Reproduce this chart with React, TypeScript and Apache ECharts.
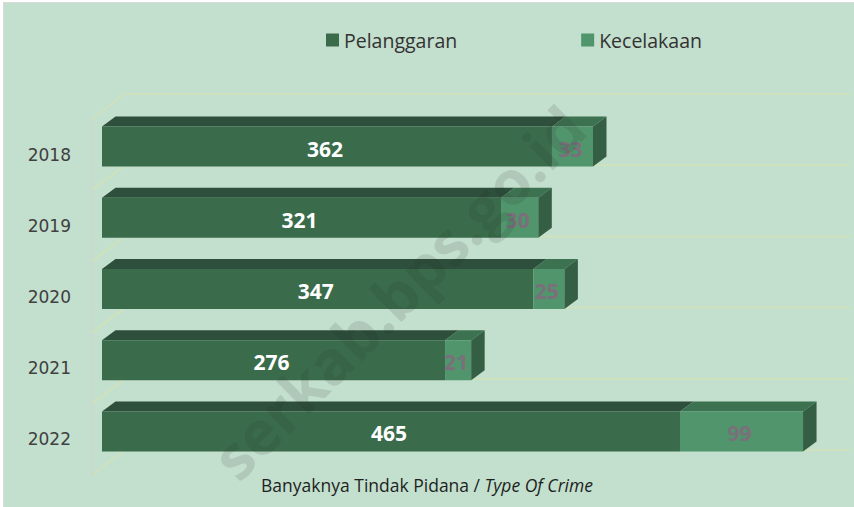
import React, { useEffect, useRef } from "react";
import * as echarts from "echarts";

const years = ["2018", "2019", "2020", "2021", "2022"];
const pelanggaran = [362, 321, 347, 276, 465];
const kecelakaan = [33, 30, 25, 21, 99];
const seriesNames = ["Pelanggaran", "Kecelakaan"];
const axisTitleId = "Banyaknya Tindak Pidana / ";
const axisTitleEn = "Type Of Crime";
const watermarkText = "serkab.bps.go.id";

const DX = 13.5;
const DY = -10;
const BAR_H = 40;
const BAR_SHIFT = -8;

const COLORS = {
  pelFront: "#3a6c4c",
  pelTop: "#2d4f3b",
  kecFront: "#50956b",
  kecTop: "#3d7251",
  side: "#345f44",
  grid: "#d1e3b6",
  wall: "#d0d5d0",
};

function makeRender(front: string, top: string, labelColor: string, isLast: boolean) {
  return (params: any, api: any) => {
    const start = api.value(0);
    const end = api.value(1);
    const cat = api.value(2);
    const val = api.value(3);
    const p0 = api.coord([start, cat]);
    const p1 = api.coord([end, cat]);
    const cy = p0[1] + BAR_SHIFT;
    const yt = cy - BAR_H / 2;
    const yb = cy + BAR_H / 2;
    const x0 = p0[0];
    const x1 = p1[0];
    const children: any[] = [
      {
        type: "polygon",
        shape: { points: [[x0, yt], [x1, yt], [x1 + DX, yt + DY], [x0 + DX, yt + DY]] },
        style: { fill: top },
      },
      {
        type: "rect",
        shape: { x: x0, y: yt, width: x1 - x0, height: BAR_H },
        style: { fill: front },
        textContent: {
          style: {
            text: String(val),
            fill: labelColor,
            fontSize: 21,
            fontWeight: "bold",
            fontFamily: "Open Sans",
          },
        },
        textConfig: { position: "inside", offset: [-2, 2] },
      },
    ];
    if (isLast) {
      children.push({
        type: "polygon",
        shape: { points: [[x1, yt], [x1 + DX, yt + DY], [x1 + DX, yb + DY], [x1, yb]] },
        style: { fill: COLORS.side },
      });
    }
    return { type: "group", children };
  };
}

const gridRender = (params: any, api: any) => {
  const cat = api.value(0);
  const p = api.coord([0, cat]);
  const band = api.size([0, 1])[1];
  const xw = p[0] - 10;
  const xb = xw + 33;
  const xe = params.coordSys.x + params.coordSys.width + 3;
  const y0 = p[1] - band / 2;
  const children: any[] = [];
  const line = (y: number) => ({
    type: "polyline",
    shape: { points: [[xw, y], [xb, y - 25], [xe, y - 25]] },
    style: { stroke: COLORS.grid, lineWidth: 1.5, fill: null },
  });
  children.push(line(y0));
  if (cat === years.length - 1) children.push(line(y0 + band));
  children.push({
    type: "line",
    shape: { x1: xw, y1: y0, x2: xw, y2: y0 + band },
    style: { stroke: COLORS.wall, lineWidth: 1.5 },
  });
  return { type: "group", children };
};

export default function App() {
  const ref = useRef<HTMLDivElement>(null);
  useEffect(() => {
    if (!ref.current) return;
    const chart = echarts.init(ref.current, null, { renderer: "svg" });
    const pelData = years.map((_, i) => [0, pelanggaran[i], i, pelanggaran[i]]);
    const kecData = years.map((_, i) => [
      pelanggaran[i],
      pelanggaran[i] + kecelakaan[i],
      i,
      kecelakaan[i],
    ]);
    chart.setOption({
      animation: false,
      backgroundColor: "#c3dfcd",
      grid: { left: 102, top: 119, width: 745.8, height: 356 },
      xAxis: { type: "value", min: 0, max: 600, show: false },
      yAxis: {
        type: "category",
        data: years,
        inverse: true,
        axisLine: { show: false },
        axisTick: { show: false },
        splitLine: { show: false },
        axisLabel: {
          margin: 31,
          color: "#404040",
          fontSize: 17,
          fontFamily: "DejaVu Sans",
        },
      },
      legend: {
        data: seriesNames,
        left: 321,
        top: 25,
        itemWidth: 13,
        itemHeight: 13,
        itemGap: 124,
        icon: "rect",
        textStyle: { color: "#333333", fontSize: 19.5, fontFamily: "Open Sans" },
      },
      series: [
        {
          type: "custom",
          name: "grid3d",
          silent: true,
          z: 1,
          data: years.map((_, i) => [i]),
          encode: { y: 0 },
          renderItem: gridRender,
        },
        {
          type: "custom",
          name: seriesNames[0],
          z: 3,
          itemStyle: { color: COLORS.pelFront },
          data: pelData,
          encode: { x: [0, 1], y: 2 },
          renderItem: makeRender(COLORS.pelFront, COLORS.pelTop, "#ffffff", false),
        },
        {
          type: "custom",
          name: seriesNames[1],
          z: 3,
          itemStyle: { color: COLORS.kecFront },
          data: kecData,
          encode: { x: [0, 1], y: 2 },
          renderItem: makeRender(COLORS.kecFront, COLORS.kecTop, "#7a6f7b", true),
        },
      ],
      graphic: [
        { type: "rect", shape: { x: 0, y: 0, width: 854, height: 2 }, style: { fill: "#ffffff" }, silent: true },
        { type: "rect", shape: { x: 0, y: 0, width: 3, height: 507 }, style: { fill: "#ffffff" }, silent: true },
        { type: "line", shape: { x1: 3, y1: 2.5, x2: 854, y2: 2.5 }, style: { stroke: "#d9d9d9", lineWidth: 1 }, silent: true },
        { type: "line", shape: { x1: 3.5, y1: 2, x2: 3.5, y2: 507 }, style: { stroke: "#d9d9d9", lineWidth: 1 }, silent: true },
        {
          type: "text",
          x: 427,
          y: 485,
          silent: true,
          style: {
            text: "{a|" + axisTitleId + "}{b|" + axisTitleEn + "}",
            align: "center",
            verticalAlign: "middle",
            rich: {
              a: { fontSize: 17.5, fontFamily: "Open Sans", fill: "#1f1f1f" },
              b: { fontSize: 17.5, fontFamily: "Open Sans", fontStyle: "italic", fill: "#1f1f1f" },
            },
          },
        },
        {
          type: "text",
          x: 398,
          y: 292,
          rotation: Math.PI / 4,
          silent: true,
          z: 100,
          style: {
            text: watermarkText,
            align: "center",
            verticalAlign: "middle",
            fontSize: 61,
            fontWeight: "bold",
            fontFamily: "Open Sans",
            fill: "rgba(40,40,40,0.12)",
          },
        },
      ],
    });
    return () => chart.dispose();
  }, []);
  return (
    <div
      ref={ref}
      style={{ position: "fixed", left: 0, top: 0, width: 854, height: 507 }}
    />
  );
}
